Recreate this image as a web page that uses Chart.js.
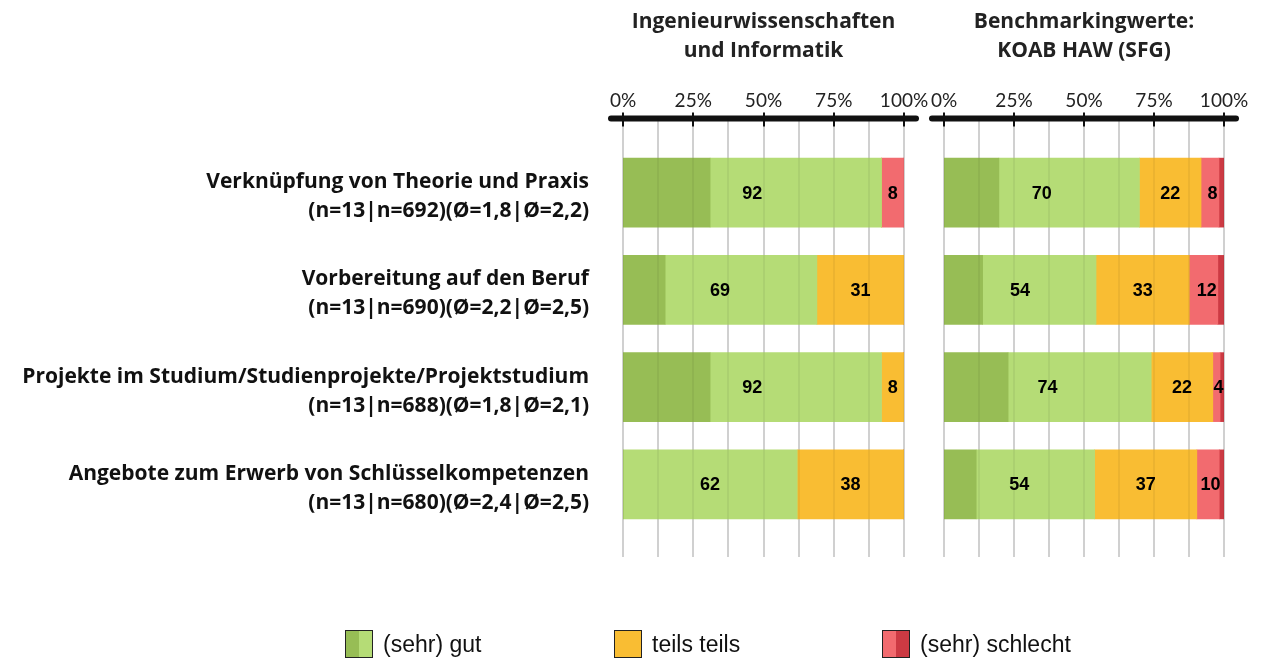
<!DOCTYPE html>
<html>
<head>
<meta charset="utf-8">
<script src="https://cdn.jsdelivr.net/npm/chart.js@4.4.0/dist/chart.umd.min.js"></script>
<style>
  body { margin: 0; background: #fff; width: 1267px; height: 659px; overflow: hidden; position: relative; }
  #leftWrap { position: absolute; left: 0; top: 0; width: 945px; height: 659px; }
  #rightWrap { position: absolute; left: 905px; top: 0; width: 362px; height: 659px; }
  .legend { position: absolute; top: 630px; height: 28px; font: 23px "Liberation Sans", Arial, sans-serif; color: #111; display: flex; align-items: center; }
  .legend .box { width: 28px; height: 28px; border: 1.5px solid #222; margin-right: 10px; box-sizing: border-box; }
</style>
</head>
<body>
<div id="leftWrap"><canvas id="leftChart"></canvas></div>
<div id="rightWrap"><canvas id="rightChart"></canvas></div>
<div class="legend" style="left:345px"><div class="box" style="background:linear-gradient(90deg,#97bd55 50%,#b5dc76 50%)"></div>(sehr) gut</div>
<div class="legend" style="left:614px"><div class="box" style="background:#f9bd33"></div>teils teils</div>
<div class="legend" style="left:882px"><div class="box" style="background:linear-gradient(90deg,#f26b6f 50%,#cc3a43 50%)"></div>(sehr) schlecht</div>
<script>
const categories = [
  ["Verknüpfung von Theorie und Praxis", "(n=13|n=692)(Ø=1,8|Ø=2,2)"],
  ["Vorbereitung auf den Beruf", "(n=13|n=690)(Ø=2,2|Ø=2,5)"],
  ["Projekte im Studium/Studienprojekte/Projektstudium", "(n=13|n=688)(Ø=1,8|Ø=2,1)"],
  ["Angebote zum Erwerb von Schlüsselkompetenzen", "(n=13|n=680)(Ø=2,4|Ø=2,5)"]
];
const seriesNames = ["sehr gut", "gut", "teils teils", "schlecht", "sehr schlecht"];
const seriesColors = ["#97bd55", "#b5dc76", "#f9bd33", "#f26b6f", "#cc3a43"];
const xTicks = [0, 25, 50, 75, 100];
const gridSteps = [0, 12.5, 25, 37.5, 50, 62.5, 75, 87.5, 100];

// Ingenieurwissenschaften und Informatik
const ingSehrGut = [31, 15, 31, 0];
const ingGut = [61, 54, 61, 62];
const ingTeils = [0, 31, 8, 38];
const ingSchlecht = [8, 0, 0, 0];
const ingSehrSchlecht = [0, 0, 0, 0];

// Benchmarking KOAB HAW (SFG)
const koabSehrGut = [19.6, 13.8, 22.9, 11.5];
const koabGut = [50.2, 40.5, 51.1, 42.3];
const koabTeils = [22, 33.3, 22, 36.5];
const koabSchlecht = [6.4, 10.2, 2.6, 8];
const koabSehrSchlecht = [1.8, 2.2, 1.4, 1.7];

const boldFont = "'Open Sans', Lato, sans-serif";
const tickFont = "Lato, 'Open Sans', sans-serif";

function drawGrid(chart, color) {
  const ctx = chart.ctx;
  const xs = chart.scales.x;
  ctx.save();
  ctx.strokeStyle = color;
  ctx.lineWidth = 2;
  gridSteps.forEach(v => {
    const px = Math.round(xs.getPixelForValue(v));
    ctx.beginPath();
    ctx.moveTo(px, 118.5);
    ctx.lineTo(px, 557);
    ctx.stroke();
  });
  ctx.restore();
}

const panelPlugin = {
  id: "panel",
  beforeDatasetsDraw(chart, args, opts) {
    const ctx = chart.ctx;
    const xs = chart.scales.x;
    const area = chart.chartArea;
    const axisY = 118.5;
    drawGrid(chart, "#dcdcdc");
    ctx.save();
    // tick marks
    ctx.strokeStyle = "#111";
    ctx.lineWidth = 2;
    xTicks.forEach(v => {
      const px = Math.round(xs.getPixelForValue(v));
      ctx.beginPath();
      ctx.moveTo(px, axisY - 6);
      ctx.lineTo(px, axisY + 8);
      ctx.stroke();
    });
    // thick axis line
    ctx.lineWidth = 6;
    ctx.lineCap = "round";
    ctx.beginPath();
    ctx.moveTo(area.left - 12, axisY);
    ctx.lineTo(area.right + 12, axisY);
    ctx.stroke();
    // title
    ctx.fillStyle = "#222";
    ctx.font = "bold 21px " + boldFont;
    ctx.textAlign = "center";
    ctx.textBaseline = "middle";
    const cx = (area.left + area.right) / 2;
    opts.title.forEach((t, i) => ctx.fillText(t, cx, 22 + i * 29));
    ctx.restore();
  },
  afterDatasetsDraw(chart) {
    // faint grid showing through the bars
    drawGrid(chart, "rgba(0,0,0,0.05)");
    const ctx = chart.ctx;
    const xs = chart.scales.x;
    const ys = chart.scales.y;
    const ds = chart.data.datasets;
    const groups = [[0, 1], [2], [3, 4]];
    ctx.save();
    ctx.fillStyle = "#000";
    ctx.font = "bold 18px 'Liberation Sans', Arial, sans-serif";
    ctx.textAlign = "center";
    ctx.textBaseline = "middle";
    categories.forEach((c, i) => {
      let start = 0;
      groups.forEach(g => {
        const sum = g.reduce((s, k) => s + ds[k].data[i], 0);
        const shown = Math.round(sum);
        if (shown > 0) {
          const x0 = xs.getPixelForValue(start);
          const x1 = xs.getPixelForValue(Math.min(100, start + sum));
          ctx.fillText(String(shown), (x0 + x1) / 2, ys.getPixelForValue(i) + 1);
        }
        start += sum;
      });
    });
    ctx.restore();
  }
};

function makeChart(id, title, values, showLabels, padding) {
  return new Chart(document.getElementById(id), {
    type: "bar",
    data: {
      labels: categories,
      datasets: values.map((arr, k) => ({
        label: seriesNames[k],
        data: arr,
        backgroundColor: seriesColors[k],
        borderWidth: 0,
        barThickness: 69
      }))
    },
    options: {
      indexAxis: "y",
      responsive: true,
      maintainAspectRatio: false,
      animation: false,
      layout: { padding: padding },
      scales: {
        x: {
          position: "top",
          stacked: true,
          min: 0,
          max: 100,
          grid: { display: false },
          border: { display: false },
          ticks: {
            stepSize: 25,
            maxRotation: 0,
            padding: 24,
            color: "#222",
            font: { family: tickFont, size: 19 },
            callback: v => v + "%"
          },
          afterFit: s => { s.height = 144; s.paddingLeft = 0; s.paddingRight = 0; }
        },
        y: {
          stacked: true,
          display: showLabels,
          grid: { display: false },
          border: { display: false },
          ticks: {
            padding: 26,
            labelOffset: 4,
            color: "#111",
            font: { family: boldFont, size: 21, weight: "bold", lineHeight: 1.38 }
          },
          afterFit: s => { if (showLabels) s.width = 623; }
        }
      },
      plugins: {
        legend: { display: false },
        tooltip: { enabled: false },
        panel: { title: title }
      }
    },
    plugins: [panelPlugin]
  });
}

makeChart("leftChart", ["Ingenieurwissenschaften", "und Informatik"],
  [ingSehrGut, ingGut, ingTeils, ingSchlecht, ingSehrSchlecht], true,
  { left: 0, right: 41, top: 0, bottom: 126 });
makeChart("rightChart", ["Benchmarkingwerte:", "KOAB HAW (SFG)"],
  [koabSehrGut, koabGut, koabTeils, koabSchlecht, koabSehrSchlecht], false,
  { left: 39, right: 43, top: 0, bottom: 126 });
</script>
</body>
</html>
